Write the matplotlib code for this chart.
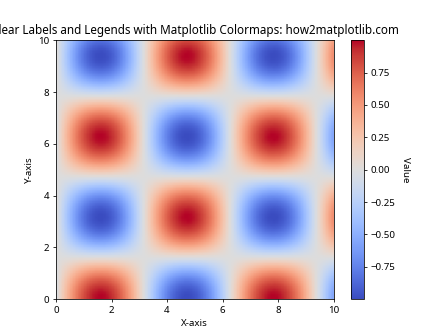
import matplotlib.pyplot as plt
import numpy as np

plt.rcParams['font.family'] = ['Noto Sans', 'DejaVu Sans']

# grid of the field shown in the picture: sin(x) * cos(y) on [0, 10]
x = np.linspace(0, 10, 100)
y = np.linspace(0, 10, 100)
X, Y = np.meshgrid(x, y)
Z = np.sin(X) * np.cos(Y)

fig = plt.figure(figsize=(6.4, 4.8), dpi=70)
im = plt.imshow(Z, cmap='coolwarm', extent=[0, 10, 0, 10], origin='lower', aspect='auto')
cbar = plt.colorbar(im)
cbar.set_label('Value', rotation=270, labelpad=15)
plt.title('Clear Labels and Legends with Matplotlib Colormaps: how2matplotlib.com')
plt.xlabel('X-axis')
plt.ylabel('Y-axis')
plt.savefig('out.png', dpi=70)
